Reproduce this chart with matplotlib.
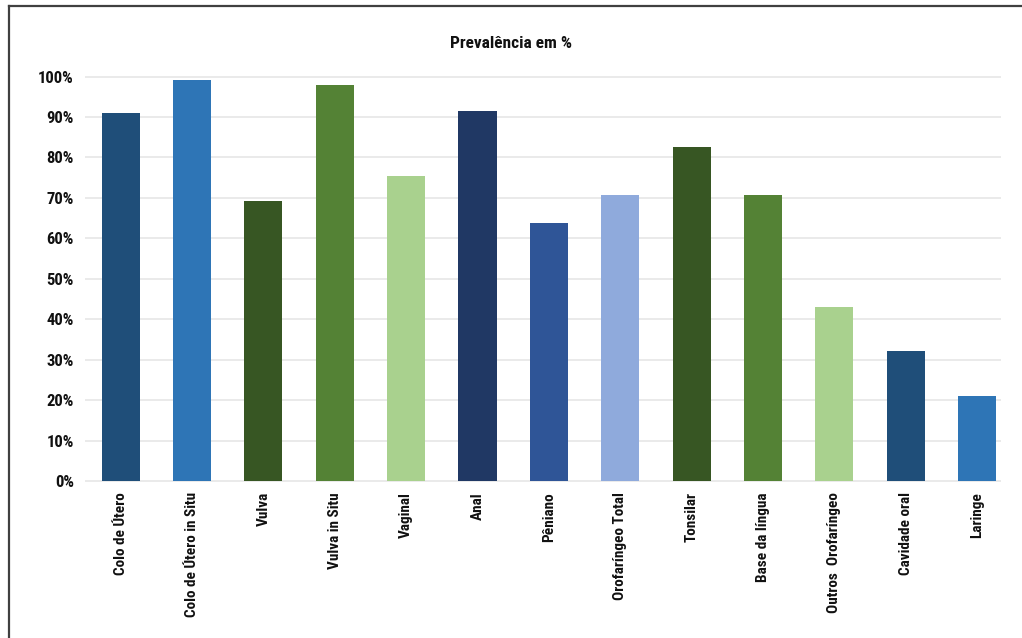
import matplotlib
matplotlib.use("Agg")
import matplotlib.pyplot as plt
from matplotlib.lines import Line2D
from matplotlib.ticker import PercentFormatter

plt.rcParams['font.family'] = ['Roboto Condensed', 'DejaVu Sans']
plt.rcParams['font.stretch'] = 'condensed'
plt.rcParams['font.weight'] = 'bold'

categories = [
    "Colo de Útero", "Colo de Útero in Situ", "Vulva", "Vulva in Situ",
    "Vaginal", "Anal", "Pêniano", "Orofaríngeo Total", "Tonsilar",
    "Base da língua", "Outros  Orofaríngeo", "Cavidade oral", "Laringe",
]
prevalence = [91.0, 99.2, 69.2, 98.0, 75.4, 91.5, 63.8, 70.7, 82.6, 70.7, 43.0, 32.1, 20.9]
bar_colors = [
    "#1F4E79", "#2E75B6", "#375623", "#548235", "#A9D18E", "#203864",
    "#2F5597", "#8FAADC", "#375623", "#548235", "#A9D18E", "#1F4E79", "#2E75B6",
]
y_ticks = [0, 10, 20, 30, 40, 50, 60, 70, 80, 90, 100]
title = "Prevalência em %"

fig = plt.figure(figsize=(10.22, 6.38), dpi=100)
ax = fig.add_axes([0.0832, 0.2461, 0.9077, 0.6339])

x = range(len(categories))
ax.bar(x, prevalence, width=0.533, color=bar_colors, zorder=3)

ax.set_xlim(-0.5, len(categories) - 0.5)
ax.set_ylim(0, 100)
ax.set_yticks(y_ticks)
ax.yaxis.set_major_formatter(PercentFormatter(decimals=0))
ax.hlines(y_ticks, -0.5, len(categories) - 0.66, colors="#E8E8E8", lw=1.3, zorder=1,
          clip_on=False)

ax.set_xticks(list(x))
ax.set_xticklabels(categories, rotation=90, va="top", ha="center")
ax.tick_params(axis="both", length=0, colors="#111111")
ax.tick_params(axis="x", pad=8, labelsize=11)
ax.tick_params(axis="y", pad=8, labelsize=12)
for s in ax.spines.values():
    s.set_visible(False)

fig.text(0.50, 0.932, title, ha="center", va="center", fontsize=12.5, color="#111111")

# outer frame: top and left edges
fig.add_artist(Line2D([9 / 1022, 9 / 1022], [0, 1 - 6 / 638], transform=fig.transFigure,
                      color="#404040", lw=1.6))
fig.add_artist(Line2D([9 / 1022, 1], [1 - 6 / 638, 1 - 6 / 638], transform=fig.transFigure,
                      color="#404040", lw=1.6))

fig.savefig("out.png", dpi=100)
